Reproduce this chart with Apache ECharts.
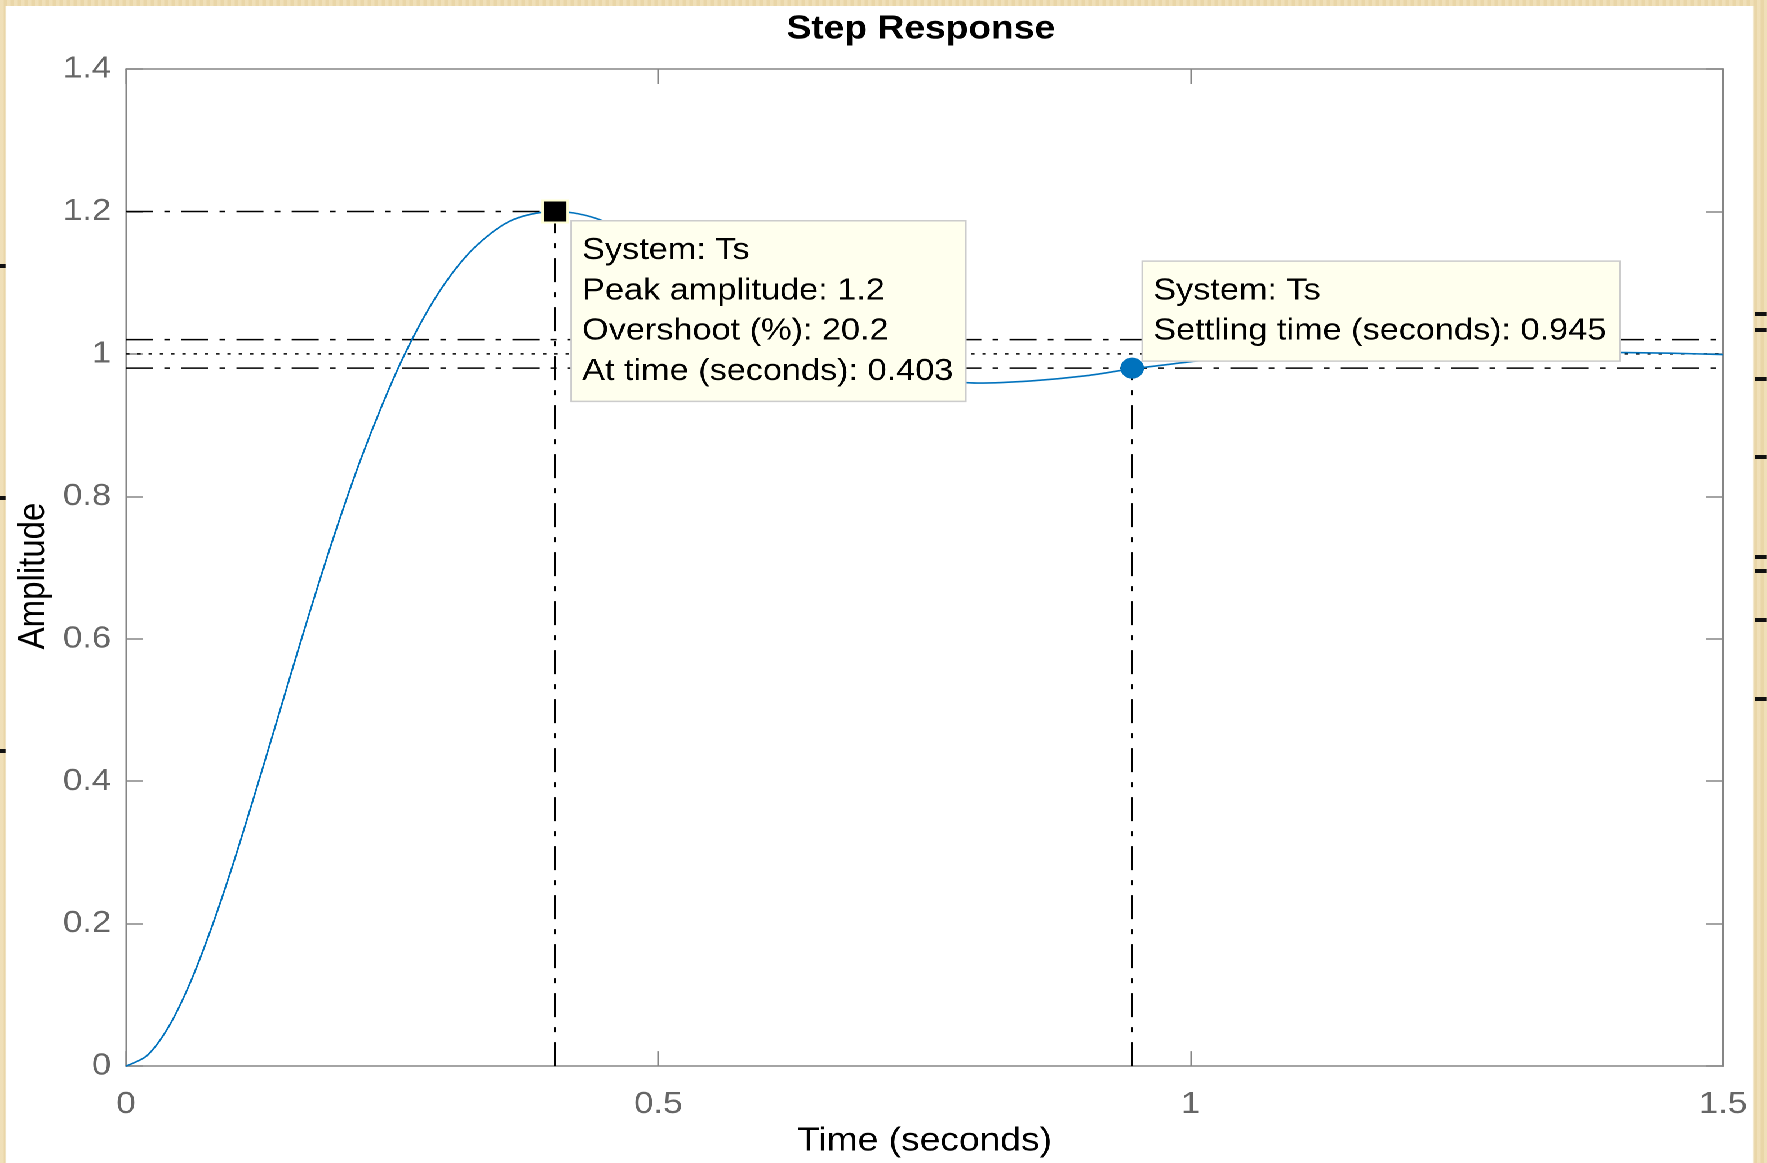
<!DOCTYPE html>
<html>
<head>
<meta charset="utf-8">
<title>Step Response</title>
<script src="https://cdn.jsdelivr.net/npm/echarts@6/dist/echarts.min.js"></script>
<style>
  html, body { margin: 0; padding: 0; width: 1767px; height: 1163px; overflow: hidden; }
  body {
    background-color: #eedcb0;
    background-image: repeating-linear-gradient(90deg, rgba(255,255,255,0.10) 0px, rgba(255,255,255,0.10) 3px, rgba(160,120,40,0.06) 4px, rgba(160,120,40,0.06) 7px);
  }
  /* the figure is laid out at 1568 px wide and stretched to the window width */
  #stage {
    position: absolute; left: 0; top: 0; width: 1568px; height: 1163px;
    transform: scale(1.126913, 1); transform-origin: 0 0;
  }
  #paper { position: absolute; left: 5.3px; top: 6px; width: 1551.2px; height: 1157px; background: #ffffff; }
  .nick { position: absolute; height: 3.5px; background: #111; }
  #chart { position: absolute; left: 0; top: 0; width: 1568px; height: 1163px; }
</style>
</head>
<body>
<div id="stage">
  <div id="paper"></div>
  <div id="chart"></div>
</div>
<script>
// Step response samples of system "Ts"
const timeS = [
  0, 0.02, 0.04, 0.06, 0.08, 0.10, 0.12, 0.14, 0.16, 0.18,
  0.20, 0.22, 0.24, 0.26, 0.28, 0.30, 0.32, 0.34, 0.36, 0.38,
  0.403, 0.42, 0.44, 0.46, 0.48, 0.50, 0.525, 0.55, 0.575,
  0.60, 0.625, 0.65, 0.675, 0.70, 0.725, 0.75, 0.80, 0.85, 0.90,
  0.945, 1.00, 1.05, 1.10, 1.15, 1.20, 1.25, 1.30, 1.35, 1.40,
  1.45, 1.50
];
const amplitude = [
  0, 0.015, 0.055, 0.116, 0.193, 0.281, 0.377, 0.476, 0.576, 0.673,
  0.765, 0.850, 0.926, 0.994, 1.052, 1.100, 1.138, 1.166, 1.186, 1.196,
  1.200, 1.198, 1.191, 1.179, 1.164, 1.147, 1.124, 1.098, 1.074,
  1.050, 1.029, 1.010, 0.994, 0.981, 0.971, 0.965, 0.959, 0.962, 0.969,
  0.979, 0.989, 0.998, 1.004, 1.007, 1.008, 1.008, 1.006, 1.004, 1.002,
  1.001, 0.999
];

// characteristics reported in the data tips
const systemName = 'Ts';
const peakTime = 0.403;
const peakAmp = 1.2;
const overshootPct = 20.2;
const settleTime = 0.945;
const settleAmp = 0.98;
const finalValue = 1;
const bandUpper = 1.02;
const bandLower = 0.98;

// axis ticks
const xTicks = [0, 0.5, 1, 1.5];
const yTicks = [0, 0.2, 0.4, 0.6, 0.8, 1, 1.2, 1.4];

// dark nicks along the left and right edges of the window frame (y in px)
const leftNicks = [266, 498, 751];
const rightNicks = [314, 330, 379, 457, 557, 571, 620, 699];

const stage = document.getElementById('stage');
leftNicks.forEach(y => {
  const d = document.createElement('div');
  d.className = 'nick';
  d.style.left = '0px'; d.style.width = '5.3px'; d.style.top = (y - 1.75) + 'px';
  stage.appendChild(d);
});
rightNicks.forEach(y => {
  const d = document.createElement('div');
  d.className = 'nick';
  d.style.left = '1557.4px'; d.style.width = '10.6px'; d.style.top = (y - 1.75) + 'px';
  stage.appendChild(d);
});

const FONT = "'Liberation Sans', Arial, Helvetica, sans-serif";
const AXIS_GRAY = '#868686';
const LABEL_GRAY = '#666666';
const DASH_DOT = [24, 10, 5, 10];
const DOTTED = [3, 7];

const curve = timeS.map((t, i) => [t, amplitude[i]]);
const xMin = xTicks[0], xMax = xTicks[xTicks.length - 1];
const yMin = yTicks[0], yMax = yTicks[yTicks.length - 1];

function refLine(name, pts, dash) {
  return {
    name: name,
    type: 'line',
    data: pts,
    symbol: 'none',
    silent: true,
    z: 1,
    lineStyle: { color: '#000000', width: 1.5, type: dash },
    emphasis: { disabled: true }
  };
}

const tipStyle = {
  show: true,
  opacity: 1,
  align: 'left',
  verticalAlign: 'top',
  fontFamily: FONT,
  fontSize: 30.4,
  lineHeight: 40.3,
  color: '#000000',
  backgroundColor: '#ffffee',
  borderColor: '#cccccc',
  borderWidth: 1.5,
  padding: [9, 0, 9, 9]
};

const axisCommon = {
  type: 'value',
  splitLine: { show: false },
  axisLine: { show: true, onZero: false, lineStyle: { color: AXIS_GRAY, width: 1.5 } },
  axisTick: { show: true, inside: true, length: 15, lineStyle: { color: AXIS_GRAY, width: 1.5 } }
};

const chart = echarts.init(document.getElementById('chart'), null, { renderer: 'canvas', devicePixelRatio: 2 });

chart.setOption({
  backgroundColor: 'transparent',
  animation: false,
  title: {
    text: 'Step Response',
    left: 693,
    top: 8,
    textStyle: { fontFamily: FONT, fontSize: 33, fontWeight: 'bold', color: '#000000' }
  },
  grid: { left: 111.8, top: 69, width: 1417.2, height: 1001, containLabel: false },
  xAxis: [
    Object.assign({}, axisCommon, {
      position: 'bottom',
      min: xMin, max: xMax, interval: xTicks[1] - xTicks[0],
      axisLabel: { fontFamily: FONT, fontSize: 31, color: LABEL_GRAY, margin: 23 },
      name: 'Time (seconds)',
      nameLocation: 'middle',
      nameGap: 55,
      nameTextStyle: { fontFamily: FONT, fontSize: 33, color: '#000000' }
    }),
    Object.assign({}, axisCommon, {
      position: 'top',
      min: xMin, max: xMax, interval: xTicks[1] - xTicks[0],
      axisLabel: { show: false }
    })
  ],
  yAxis: [
    Object.assign({}, axisCommon, {
      position: 'left',
      min: yMin, max: yMax, interval: yTicks[1] - yTicks[0],
      axisLabel: { fontFamily: FONT, fontSize: 31, color: LABEL_GRAY, margin: 13 }
    }),
    Object.assign({}, axisCommon, {
      position: 'right',
      min: yMin, max: yMax, interval: yTicks[1] - yTicks[0],
      axisLabel: { show: false }
    })
  ],
  graphic: [
    {
      type: 'text',
      x: 30, y: 576,
      rotation: Math.PI / 2,
      style: {
        text: 'Amplitude',
        fontFamily: FONT, fontSize: 33, fill: '#000000',
        align: 'center', verticalAlign: 'middle'
      }
    }
  ],
  series: [
    refLine('peak level', [[xMin, peakAmp], [peakTime, peakAmp]], DASH_DOT),
    refLine('peak time', [[peakTime, yMin], [peakTime, peakAmp]], DASH_DOT),
    refLine('upper band', [[xMin, bandUpper], [xMax, bandUpper]], DASH_DOT),
    refLine('lower band', [[xMin, bandLower], [xMax, bandLower]], DASH_DOT),
    refLine('final value', [[xMin, finalValue], [xMax, finalValue]], DOTTED),
    refLine('settling time', [[settleTime, yMin], [settleTime, settleAmp]], DASH_DOT),
    {
      name: systemName,
      type: 'line',
      data: curve,
      symbol: 'none',
      smooth: 0.3,
      z: 3,
      lineStyle: { color: '#0072bd', width: 1.6 },
      emphasis: { disabled: true }
    },
    {
      name: 'Peak response',
      type: 'scatter',
      data: [[peakTime, peakAmp]],
      symbol: 'rect',
      symbolSize: 22,
      z: 6,
      itemStyle: { color: '#000000', borderColor: '#ffffd4', borderWidth: 2, opacity: 1 },
      emphasis: { disabled: true },
      label: Object.assign({}, tipStyle, {
        position: [27, 22],
        width: 339.7,
        formatter: [
          'System: ' + systemName,
          'Peak amplitude: ' + peakAmp,
          'Overshoot (%): ' + overshootPct,
          'At time (seconds): ' + peakTime
        ].join('\n')
      })
    },
    {
      name: 'Settling time',
      type: 'scatter',
      data: [[settleTime, settleAmp]],
      symbol: 'circle',
      symbolSize: 21,
      z: 6,
      itemStyle: { color: '#0072bd', opacity: 1 },
      emphasis: { disabled: true },
      label: Object.assign({}, tipStyle, {
        position: [20.2, -95.8],
        width: 413.4,
        formatter: [
          'System: ' + systemName,
          'Settling time (seconds): ' + settleTime
        ].join('\n')
      })
    }
  ]
});
</script>
</body>
</html>
